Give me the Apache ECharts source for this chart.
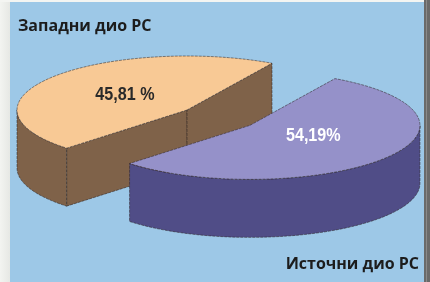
<!DOCTYPE html>
<html>
<head>
<meta charset="utf-8">
<script src="https://cdn.jsdelivr.net/npm/echarts@6/dist/echarts.min.js"></script>
<style>
  html, body { margin: 0; padding: 0; background: #f0f1ee; }
  #main { width: 430px; height: 282px; }
</style>
</head>
<body>
<div id="main"></div>
<script>
// chart data
var regions = ['Западни дио РС', 'Источни дио РС'];
var shares = [45.81, 54.19];
var labels = ['45,81 %', '54,19%'];

var topColors = ['#f8c995', '#9591c9'];
var sideColors = ['#7f6249', '#504d87'];
var labelColors = ['#2a2a2a', '#ffffff'];

// pie geometry (pixels)
var cx = 187, cy = 110, rx = 170, ry = 54, depth = 58;
var startAngle = 300;       // degrees, screen y-down
var explode = [0, 0.467];   // fraction of radius, along slice bisector
var labelRadius = [0.46, 0.47];
var labelShiftY = [0, -5];

var myChart = echarts.init(document.getElementById('main'));

function pt(ox, oy, t, dy) {
  var r = t * Math.PI / 180;
  return [ox + rx * Math.cos(r), oy + ry * Math.sin(r) + (dy || 0)];
}

function arc(ox, oy, a0, a1, dy) {
  var pts = [];
  var n = Math.max(2, Math.ceil(Math.abs(a1 - a0) / 2));
  for (var i = 0; i <= n; i++) {
    pts.push(pt(ox, oy, a0 + (a1 - a0) * i / n, dy));
  }
  return pts;
}

var edge = { stroke: 'rgba(45,35,35,0.75)', lineWidth: 0.7, lineDash: [3, 1] };

function renderItem(params, api) {
  var idx = params.dataIndex;
  var total = shares.reduce(function (a, b) { return a + b; }, 0);
  var before = 0;
  for (var i = 0; i < idx; i++) before += shares[i];
  var val = api.value(0);
  // slices go counterclockwise from startAngle
  var a1 = startAngle - before / total * 360;
  var a0 = a1 - val / total * 360;
  var mid = (a0 + a1) / 2;
  var mr = mid * Math.PI / 180;
  var ox = cx + explode[idx] * rx * Math.cos(mr);
  var oy = cy + explode[idx] * ry * Math.sin(mr);

  var children = [];
  var side = { fill: sideColors[idx], stroke: edge.stroke, lineWidth: edge.lineWidth, lineDash: edge.lineDash };

  // radial faces that look toward the viewer
  [[a0, a0 - 90], [a1, a1 + 90]].forEach(function (f) {
    if (Math.sin(f[1] * Math.PI / 180) > 0) {
      var p = pt(ox, oy, f[0]);
      children.push({
        type: 'polygon',
        shape: { points: [[ox, oy], p, [p[0], p[1] + depth], [ox, oy + depth]] },
        style: side
      });
    }
  });

  // outer wall, front half only
  [-360, 0, 360].forEach(function (k) {
    var b0 = Math.max(a0, k), b1 = Math.min(a1, k + 180);
    if (b1 > b0) {
      var upper = arc(ox, oy, b0, b1, 0);
      var lower = arc(ox, oy, b0, b1, depth).reverse();
      children.push({
        type: 'polygon',
        shape: { points: upper.concat(lower) },
        style: side
      });
    }
  });

  // top face
  children.push({
    type: 'polygon',
    shape: { points: [[ox, oy]].concat(arc(ox, oy, a0, a1, 0)) },
    style: { fill: topColors[idx], stroke: edge.stroke, lineWidth: edge.lineWidth, lineDash: edge.lineDash }
  });

  // value label
  var lp = pt(ox, oy, mid);
  children.push({
    type: 'text',
    x: ox + (lp[0] - ox) * labelRadius[idx],
    y: oy + (lp[1] - oy) * labelRadius[idx] + labelShiftY[idx],
    scaleX: 0.85,
    style: {
      text: labels[idx],
      fill: labelColors[idx],
      font: 'bold 19px "Liberation Sans", Arial',
      align: 'center',
      verticalAlign: 'middle'
    }
  });

  return { type: 'group', children: children };
}

var option = {
  backgroundColor: '#9dc8e7',
  animation: false,
  title: [
    {
      text: regions[0],
      left: 13,
      top: 13,
      textStyle: { fontFamily: 'Open Sans', fontWeight: 'bold', fontSize: 16, color: '#1c1c1c' }
    },
    {
      text: regions[1],
      right: 6,
      top: 251,
      textStyle: { fontFamily: 'Open Sans', fontWeight: 'bold', fontSize: 16, color: '#1c1c1c' }
    }
  ],
  graphic: [
    {
      type: 'rect', shape: { x: 0, y: 0, width: 10, height: 282 }, z: 100,
      style: { fill: new echarts.graphic.LinearGradient(0, 0, 1, 0, [
        { offset: 0, color: '#f3f4f1' }, { offset: 1, color: '#e6e8e4' }]) }
    },
    { type: 'rect', shape: { x: 0, y: 0, width: 430, height: 2 }, z: 100, style: { fill: '#f4f5f2' } },
    { type: 'rect', shape: { x: 424, y: 0, width: 6, height: 282 }, z: 100, style: { fill: '#6a6a6a' } },
    { type: 'rect', shape: { x: 426, y: 0, width: 1, height: 282 }, z: 101, style: { fill: '#8a8a8a' } }
  ],
  series: [
    {
      type: 'custom',
      coordinateSystem: 'none',
      renderItem: renderItem,
      data: shares.map(function (v, i) { return { name: regions[i], value: [v] }; })
    }
  ]
};

myChart.setOption(option);
</script>
</body>
</html>
